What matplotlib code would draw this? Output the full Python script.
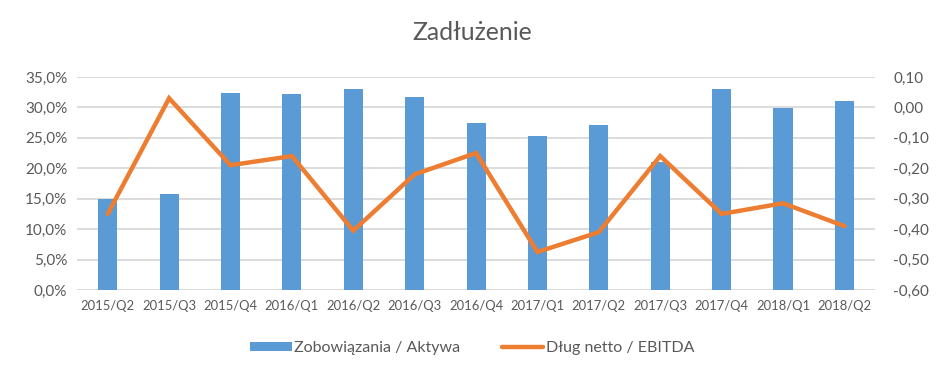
import numpy as np
import matplotlib.pyplot as plt
from matplotlib.ticker import FuncFormatter

quarters = ['2015/Q2', '2015/Q3', '2015/Q4', '2016/Q1', '2016/Q2', '2016/Q3', '2016/Q4',
            '2017/Q1', '2017/Q2', '2017/Q3', '2017/Q4', '2018/Q1', '2018/Q2']
zobowiazania = [15.0, 15.8, 32.3, 32.2, 33.0, 31.7, 27.4, 25.3, 27.1, 21.1, 33.0, 29.9, 31.0]
dlug_ebitda = [-0.35, 0.03, -0.19, -0.16, -0.405, -0.22, -0.15, -0.475, -0.41, -0.16, -0.35, -0.315, -0.39]

BLUE = '#5B9BD5'
ORANGE = '#ED7D31'
TXT = '#595959'
GRID = '#D9D9D9'

plt.rcParams['font.family'] = ['Lato', 'DejaVu Sans']

fig = plt.figure(figsize=(9.44, 3.79), dpi=100)
ax = fig.add_axes([0.0816, 0.2348, 0.8454, 0.5622])
x = np.arange(len(quarters))

ax.bar(x, zobowiazania, width=0.31, color=BLUE, zorder=2, label='Zobowiązania / Aktywa')
ax.set_ylim(0, 35)
ax.set_yticks(np.arange(0, 36, 5))
ax.yaxis.set_major_formatter(FuncFormatter(lambda v, p: f'{v:.1f}%'.replace('.', ',')))
ax.set_xlim(-0.5, len(quarters) - 0.5)
ax.set_xticks(x)
ax.set_xticklabels(quarters)
ax.grid(axis='y', color=GRID, linewidth=1.3, zorder=0)
ax.set_axisbelow(True)

ax2 = ax.twinx()
ax2.plot(x, dlug_ebitda, color=ORANGE, linewidth=3.2, solid_capstyle='round',
         solid_joinstyle='miter', label='Dług netto / EBITDA', zorder=3)
ax2.set_ylim(-0.6, 0.1)
ax2.set_yticks(np.round(np.arange(-0.6, 0.11, 0.1), 2))
ax2.yaxis.set_major_formatter(FuncFormatter(lambda v, p: f'{v:.2f}'.replace('.', ',').replace('-0,00', '0,00')))

for a in (ax, ax2):
    for s in a.spines.values():
        s.set_visible(False)
    a.tick_params(length=0, colors=TXT)
ax.tick_params(axis='y', labelsize=11, pad=7)
ax2.tick_params(axis='y', labelsize=11, pad=13)
ax.tick_params(axis='x', labelsize=9.4, pad=7)

fig.suptitle('Zadłużenie', y=0.945, fontsize=17.8, color=TXT)

h1, l1 = ax.get_legend_handles_labels()
h2, l2 = ax2.get_legend_handles_labels()
fig.legend(h1 + h2, l1 + l2, loc='center', bbox_to_anchor=(0.5, 0.082), ncol=2,
           frameon=False, fontsize=11.5, labelcolor=TXT, handlelength=2.6,
           handleheight=0.5, columnspacing=2.6, handletextpad=0.15)

fig.savefig('out.png', dpi=100)
